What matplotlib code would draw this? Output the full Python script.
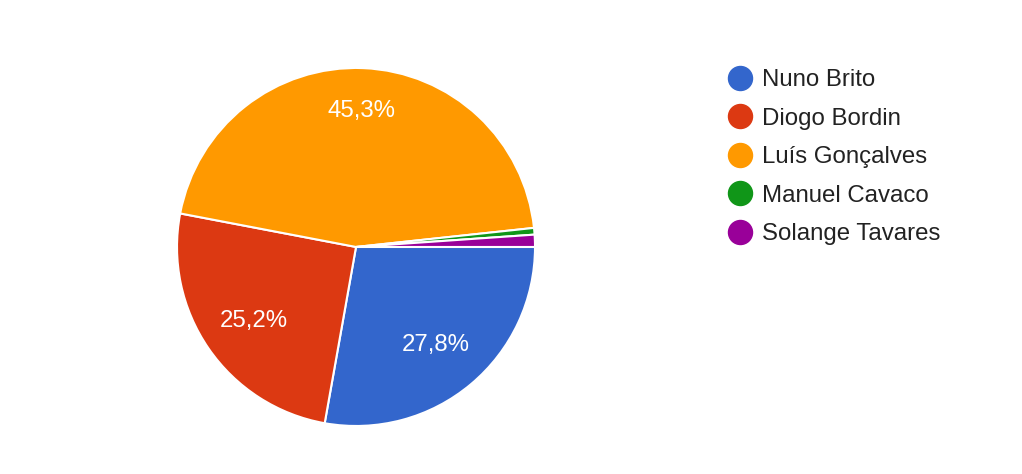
import numpy as np
import matplotlib.pyplot as plt
from matplotlib.lines import Line2D

plt.rcParams['font.family'] = ['Liberation Sans', 'DejaVu Sans']

# dados
nomes = ['Nuno Brito', 'Diogo Bordin', 'Luís Gonçalves', 'Manuel Cavaco', 'Solange Tavares']
valores = [27.8, 25.2, 45.3, 0.6, 1.1]
cores = ['#3366cc', '#dc3912', '#ff9900', '#109618', '#990099']

fig = plt.figure(figsize=(10.22, 4.74), dpi=100)
ax = fig.add_axes([0.1732, 0.1013, 0.3503, 0.7553])

def rotulo(p):
    # so mostra rotulo para fatias grandes
    return ('%.1f%%' % p).replace('.', ',') if p > 5 else ''

fatias, textos, pct = ax.pie(valores, colors=cores, startangle=0, counterclock=False,
                             radius=1, autopct=rotulo, pctdistance=0.69,
                             wedgeprops=dict(edgecolor='white', linewidth=1.5),
                             textprops=dict(color='white', fontsize=17.3))

# rotulo da fatia laranja fica um pouco mais para fora
w = fatias[2]
ang = np.deg2rad((w.theta1 + w.theta2) / 2)
pct[2].set_position((0.78 * np.cos(ang), 0.78 * np.sin(ang)))
for t in pct:
    x, y = t.get_position()
    t.set_position((x, y - 0.02))

ax.set_xlim(-1, 1)
ax.set_ylim(-1, 1)
ax.set_aspect('equal')
ax.axis('off')

alcas = [Line2D([], [], marker='o', linestyle='', markersize=17.3,
                markerfacecolor=c, markeredgecolor=c) for c in cores]
fig.legend(handles=alcas, labels=nomes, loc='upper left', bbox_to_anchor=(0.7123, 0.8545),
           frameon=False, fontsize=17.3, handlelength=1.0, handletextpad=0.42,
           labelspacing=0.69, borderpad=0, borderaxespad=0, labelcolor='#222222')

plt.savefig('out.png', dpi=100)
